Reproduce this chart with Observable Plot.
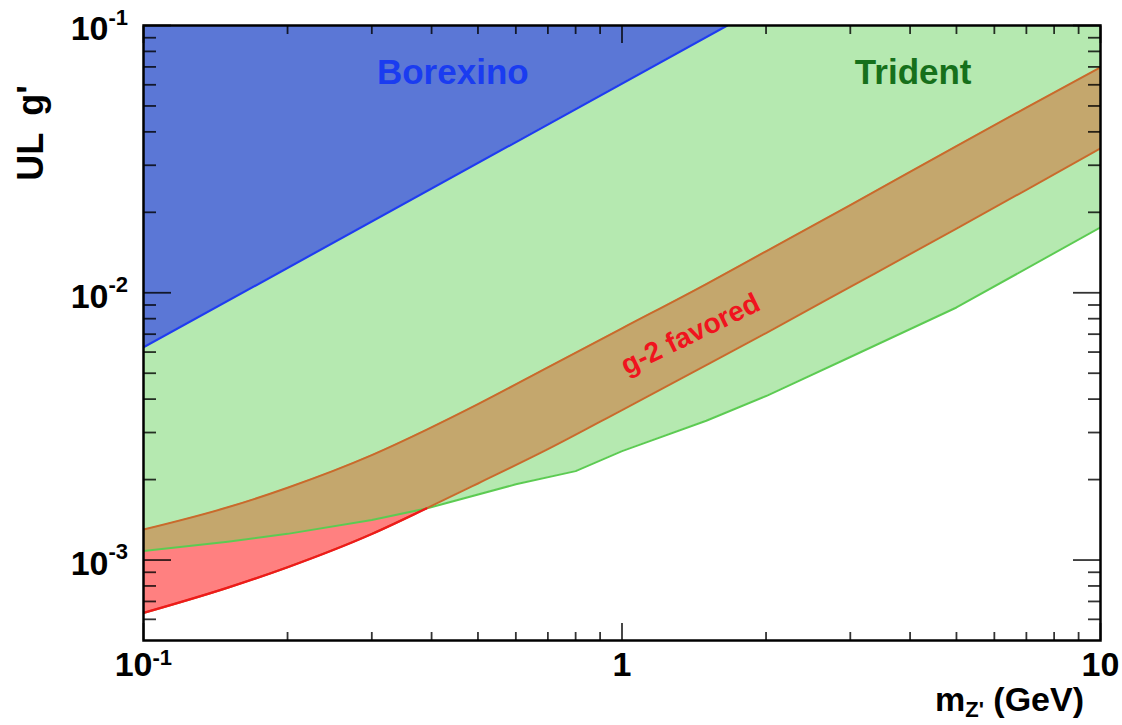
<!DOCTYPE html>
<html><head><meta charset="utf-8">
<script src="https://cdn.jsdelivr.net/npm/d3@7"></script>
<script src="https://cdn.jsdelivr.net/npm/@observablehq/plot@0.6"></script>
<style>body{margin:0;background:#fff} #chart{width:1122px;height:725px}</style>
</head><body><div id="chart"></div>
<script>
// ---- data ----
const massBand  = [0.1, 0.15, 0.2, 0.3, 0.39, 0.5, 0.7, 1, 1.5, 2, 3, 5, 7, 10];
const bandUpper = [1.30e-3, 1.575e-3, 1.865e-3, 2.47e-3, 3.07e-3, 3.83e-3, 5.26e-3, 7.36e-3, 1.078e-2, 1.43e-2, 2.13e-2, 3.54e-2, 4.93e-2, 6.97e-2];
const bandLower = [6.34e-4, 7.88e-4, 9.40e-4, 1.252e-3, 1.56e-3, 1.934e-3, 2.598e-3, 3.64e-3, 5.36e-3, 7.07e-3, 1.052e-2, 1.738e-2, 2.428e-2, 3.468e-2];
const massTrident = [0.1, 0.15, 0.2, 0.3, 0.39, 0.6, 0.8, 1, 1.5, 2, 3, 5, 10];
const tridentLimit = [1.08e-3, 1.171e-3, 1.253e-3, 1.412e-3, 1.56e-3, 1.92e-3, 2.151e-3, 2.557e-3, 3.32e-3, 4.108e-3, 5.749e-3, 8.81e-3, 1.757e-2];
const massBorexino = [0.1, 1.66];
const borexinoLimit = [6.25e-3, 0.1];
const crossMass = 0.39;   // where the g-2 band's lower edge meets the trident limit
const yTop = 0.1;

const xMajor = [0.1, 1, 10];
const xMinor = [0.2,0.3,0.4,0.5,0.6,0.7,0.8,0.9,2,3,4,5,6,7,8,9];
const yMajor = [1e-3, 1e-2, 1e-1];
const yMinor = [6e-4,7e-4,8e-4,9e-4,2e-3,3e-3,4e-3,5e-3,6e-3,7e-3,8e-3,9e-3,2e-2,3e-2,4e-2,5e-2,6e-2,7e-2,8e-2,9e-2];
const xTickBase = ["10", "1", "10"];
const xTickExp  = ["-1", "", ""];
const yTickBase = ["10", "10", "10"];
const yTickExp  = ["-3", "-2", "-1"];

const labelText = ["Borexino", "Trident", "g-2 favored"];
const labelX = [0.443, 4.06, 1.39];
const labelY = [0.0667, 0.0667, 0.0070];

// ---- tables ----
const band = massBand.map((m, i) => ({m, lo: bandLower[i], hi: bandUpper[i]}));
const tri = massTrident.map((m, i) => ({m, g: tridentLimit[i]}));
const bor = massBorexino.map((m, i) => ({m, g: borexinoLimit[i]}));
const redRegion = band.filter(d => d.m <= crossMass)
  .map(d => ({m: d.m, lo: d.lo, hi: tri.find(t => t.m === d.m).g}));
const bandLowRed = band.filter(d => d.m <= crossMass);

const FONT = "'Liberation Sans', Arial, Helvetica, sans-serif";
const tickStyle = {stroke: "black", strokeOpacity: 0.8, strokeWidth: 1.8, tickFormat: () => "", label: null};

const plot = Plot.plot({
  width: 1122, height: 725,
  marginLeft: 143, marginRight: 22, marginTop: 25, marginBottom: 85,
  style: {fontFamily: FONT, background: "white", overflow: "visible"},
  x: {type: "log", domain: [0.1, 10]},
  y: {type: "log", domain: [5e-4, 0.1]},
  marks: [
    Plot.areaY(tri, {x: "m", y1: "g", y2: yTop, fill: "#b5e9b0", clip: true}),
    Plot.areaY(bor, {x: "m", y1: "g", y2: yTop, fill: "#5b77d6", clip: true}),
    Plot.areaY(band, {x: "m", y1: "lo", y2: "hi", fill: "#c4a76d", curve: "monotone-x", clip: true}),
    Plot.areaY(redRegion, {x: "m", y1: "lo", y2: "hi", fill: "#ff8080", curve: "monotone-x", clip: true}),
    Plot.line(tri, {x: "m", y: "g", stroke: "#5ccb52", strokeWidth: 2, clip: true}),
    Plot.line(bor, {x: "m", y: "g", stroke: "#1f3cf0", strokeWidth: 2.2, clip: true}),
    Plot.line(band, {x: "m", y: "hi", stroke: "#c96a2c", strokeWidth: 2, curve: "monotone-x", clip: true}),
    Plot.line(band, {x: "m", y: "lo", stroke: "#c96a2c", strokeWidth: 2, curve: "monotone-x", clip: true}),
    Plot.line(bandLowRed, {x: "m", y: "lo", stroke: "#ee1a1a", strokeWidth: 2.3, curve: "monotone-x", clip: true}),
    // inward ticks on all four sides
    Plot.axisY(yMajor, {anchor: "left", tickSize: -28, ...tickStyle}),
    Plot.axisY(yMinor, {anchor: "left", tickSize: -13, ...tickStyle}),
    Plot.axisY(yMajor, {anchor: "right", tickSize: -28, ...tickStyle}),
    Plot.axisY(yMinor, {anchor: "right", tickSize: -13, ...tickStyle}),
    Plot.axisX(xMajor, {anchor: "bottom", tickSize: -17, ...tickStyle}),
    Plot.axisX(xMinor, {anchor: "bottom", tickSize: -8, ...tickStyle}),
    Plot.axisX(xMajor, {anchor: "top", tickSize: -17, ...tickStyle}),
    Plot.axisX(xMinor, {anchor: "top", tickSize: -8, ...tickStyle}),
    Plot.frame({stroke: "black", strokeWidth: 2.5}),
    // y tick labels 10^n
    Plot.text(yMajor, {y: d => d, frameAnchor: "left", text: (d, i) => yTickBase[i], textAnchor: "end",
      dx: -35, dy: 4, fontSize: 34, fontWeight: "bold", fill: "black"}),
    Plot.text(yMajor, {y: d => d, frameAnchor: "left", text: (d, i) => yTickExp[i], textAnchor: "start",
      dx: -35, dy: -8, fontSize: 22, fontWeight: "bold", fill: "black"}),
    // x tick labels
    Plot.text(xMajor, {x: d => d, frameAnchor: "bottom", filter: (d, i) => xTickExp[i] === "",
      text: (d, i) => xTickBase[i], textAnchor: "middle", dy: 35, fontSize: 34, fontWeight: "bold", fill: "black"}),
    Plot.text(xMajor, {x: d => d, frameAnchor: "bottom", filter: (d, i) => xTickExp[i] !== "",
      text: (d, i) => xTickBase[i], textAnchor: "end", dx: 9, dy: 35, fontSize: 34, fontWeight: "bold", fill: "black"}),
    Plot.text(xMajor, {x: d => d, frameAnchor: "bottom", filter: (d, i) => xTickExp[i] !== "",
      text: (d, i) => xTickExp[i], textAnchor: "start", dx: 9, dy: 24, fontSize: 22, fontWeight: "bold", fill: "black"}),
    // region labels
    Plot.text([0], {x: i => labelX[0], y: i => labelY[0], text: i => labelText[0], fill: "#1a3cf0", fontSize: 35, fontWeight: "bold"}),
    Plot.text([1], {x: i => labelX[1], y: i => labelY[1], text: i => labelText[1], fill: "#16701b", fontSize: 35, fontWeight: "bold"}),
    Plot.text([2], {x: i => labelX[2], y: i => labelY[2], text: i => labelText[2], fill: "#f0141e", fontSize: 28, fontWeight: "bold", rotate: -26})
  ]
});

const svg = d3.select(plot);
// y-axis title
const yt = svg.append("text")
  .attr("transform", "translate(43,133) rotate(-90)")
  .attr("font-family", FONT).attr("font-weight", "bold").attr("font-size", 36).attr("fill", "black");
yt.append("tspan").text("UL");
yt.append("tspan").attr("dx", 17).text("g'");
// x-axis title
const xt = svg.append("text")
  .attr("x", 1084).attr("y", 711).attr("text-anchor", "end")
  .attr("font-family", FONT).attr("font-weight", "bold").attr("font-size", 34).attr("fill", "black");
xt.append("tspan").text("m");
xt.append("tspan").attr("font-size", 22).attr("dy", 6).text("Z'");
xt.append("tspan").attr("dy", -6).text(" (GeV)");

document.getElementById("chart").appendChild(plot);
</script>
</body></html>
